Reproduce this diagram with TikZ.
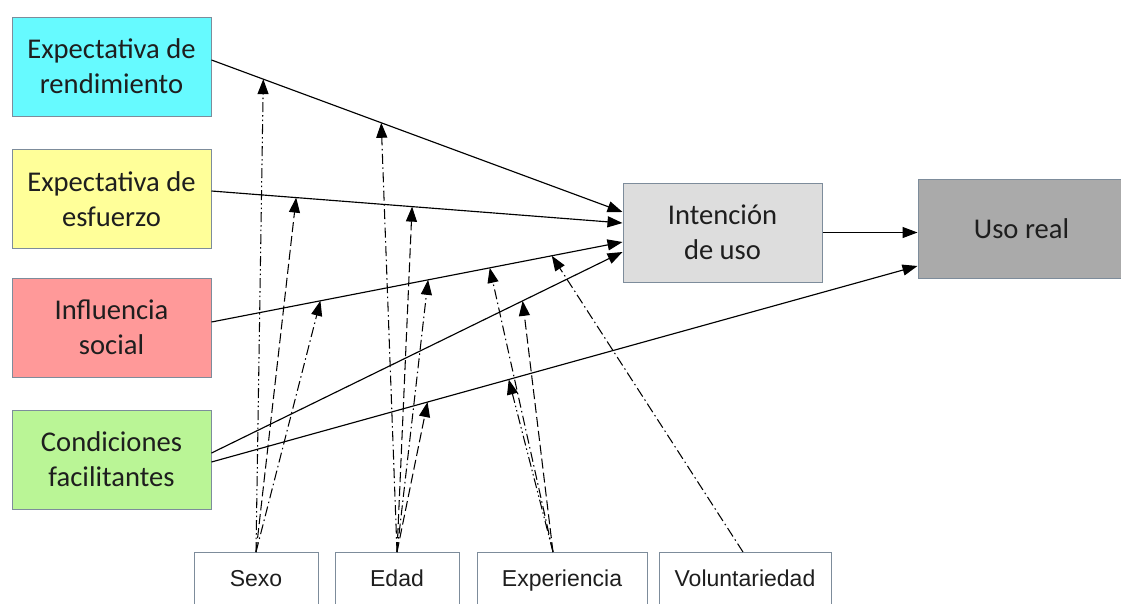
\documentclass[tikz,border=0pt]{standalone}
\usepackage{fontspec}
\setmainfont{Carlito}
\newfontfamily\arialf{Liberation Sans}
\usetikzlibrary{arrows.meta,calc}
\definecolor{cyanbox}{RGB}{102,250,255}
\definecolor{yellowbox}{RGB}{255,255,153}
\definecolor{pinkbox}{RGB}{255,153,153}
\definecolor{greenbox}{RGB}{186,245,150}
\definecolor{intbox}{RGB}{221,221,221}
\definecolor{usobox}{RGB}{170,170,170}
\definecolor{bordergray}{RGB}{125,140,155}
\definecolor{textdark}{RGB}{30,30,30}
\begin{document}
\begin{tikzpicture}[x=1pt,y=-1pt,
  box/.style={draw=bordergray, line width=1pt, minimum width=199pt, minimum height=99pt,
    align=center, inner sep=0pt, text=textdark, font=\fontsize{28.6}{35}\selectfont},
  modbox/.style={draw=bordergray, fill=white, line width=1pt, minimum height=56pt,
    inner sep=0pt, anchor=north, text=textdark, text height=16pt, text depth=4.5pt,
    font=\arialf\fontsize{23}{27}\selectfont},
  mainarrow/.style={line width=1.15pt, -{Triangle[length=15pt,width=11pt]}},
  modarrow/.style={line width=1.05pt, -{Triangle[length=15pt,width=11pt]}},
  dashdot/.style={dash pattern=on 10pt off 3.5pt on 1.5pt off 3.5pt},
  dashdotdot/.style={dash pattern=on 10pt off 3pt on 1.5pt off 3pt on 1.5pt off 3pt},
  dashonly/.style={dash pattern=on 10pt off 4pt}
]
\useasboundingbox (0,0) rectangle (1121,603);
\clip (0,0) rectangle (1121,603);
\fill[white] (0,0) rectangle (1121,603);

% left boxes
\node[box, fill=cyanbox] (rend) at (111.5,66.5) {Expectativa de\\rendimiento};
\node[box, fill=yellowbox] (esf) at (111.5,199) {Expectativa de\\esfuerzo};
\node[box, fill=pinkbox] (soc) at (111.5,327.5) {Influencia\\social};
\node[box, fill=greenbox] (cond) at (111.5,459.5) {Condiciones\\facilitantes};

% right boxes
\node[box, fill=intbox] (int) at (722.5,232.5) {Intención\\de uso};
\node[box, fill=usobox, minimum width=207pt] (uso) at (1021.5,228.5) {Uso real};

% moderator boxes
\node[modbox, minimum width=124pt] (sexo) at (256,552) {Sexo};
\node[modbox, minimum width=124pt] (edad) at (397,552) {Edad};
\node[modbox, minimum width=170pt] (exp) at (562,552) {Experiencia};
\node[modbox, minimum width=172pt] (vol) at (745,552) {Voluntariedad};

% main connectors with named points on them
\draw[mainarrow] ([yshift=6.5pt]rend.east) -- ([yshift=20.5pt]int.west)
  coordinate[pos=0.126] (r1) coordinate[pos=0.413] (r2);
\draw[mainarrow] ([yshift=8pt]esf.east) -- ([yshift=9.5pt]int.west)
  coordinate[pos=0.206] (e1) coordinate[pos=0.488] (e2);
\draw[mainarrow] ([yshift=5.5pt]soc.east) -- ([yshift=-9.5pt]int.west)
  coordinate[pos=0.265] (s1) coordinate[pos=0.527] (s2)
  coordinate[pos=0.677] (s3) coordinate[pos=0.828] (s4);
\draw[mainarrow] ([yshift=6.5pt]cond.east) -- ([yshift=-19.5pt]int.west)
  coordinate[pos=0.757] (c1);
\draw[mainarrow] ([yshift=-2.5pt]cond.east) -- ([yshift=-37.5pt]uso.west)
  coordinate[pos=0.306] (d1) coordinate[pos=0.421] (d2);
\draw[mainarrow] (int.east) -- ([yshift=-4pt]uso.west);

% moderators
\draw[modarrow, dashdotdot] (sexo.north) -- (r1);
\draw[modarrow, dashonly] (sexo.north) -- (e1);
\draw[modarrow, dashdot] (sexo.north) -- (s1);

\draw[modarrow, dashdot] (edad.north) -- (r2);
\draw[modarrow, dashonly] (edad.north) -- (e2);
\draw[modarrow, dashdot] (edad.north) -- (s2);
\draw[modarrow, dashonly] (edad.north) -- (d1);

\draw[modarrow, dashdot] ([xshift=-9pt]exp.north) -- (s3);
\draw[modarrow, dashonly] ([xshift=-9pt]exp.north) -- (c1);
\draw[modarrow, dashdotdot] ([xshift=-9pt]exp.north) -- (d2);

\draw[modarrow, dashdot] ([xshift=-2pt]vol.north) -- (s4);
\end{tikzpicture}
\end{document}
